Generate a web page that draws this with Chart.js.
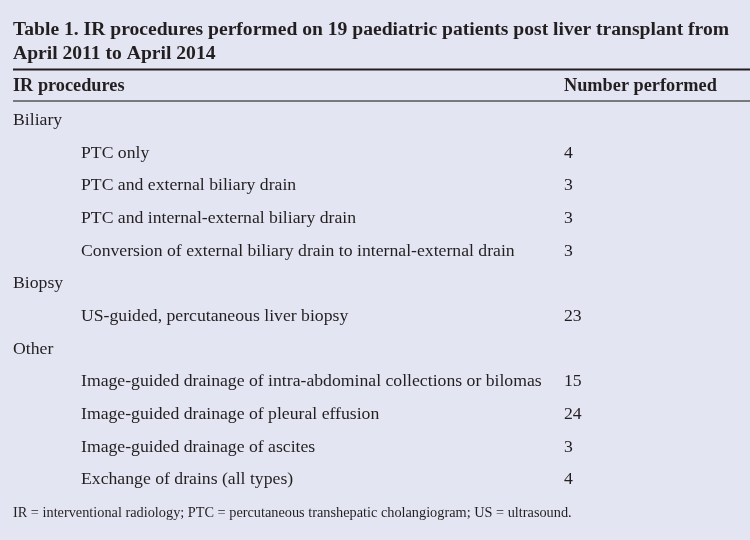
<!DOCTYPE html>
<html lang="en">
<head>
    <meta charset="UTF-8">
    <title>Table 1. IR procedures</title>
    <script src="https://cdn.jsdelivr.net/npm/chart.js"></script>
    <style>
        html, body { margin: 0; padding: 0; background: #e3e5f2; }
        canvas { display: block; }
    </style>
</head>
<body>
    <canvas id="table1" width="750" height="540"></canvas>
    <script>
        // Datos de la tabla
        const titleLines = [
            'Table 1. IR procedures performed on 19 paediatric patients post liver transplant from',
            'April 2011 to April 2014'
        ];
        const columnHeaders = ['IR procedures', 'Number performed'];
        const groups = ['Biliary', 'Biopsy', 'Other'];
        const biliaryProcedures = [
            'PTC only',
            'PTC and external biliary drain',
            'PTC and internal-external biliary drain',
            'Conversion of external biliary drain to internal-external drain'
        ];
        const biliaryCounts = [4, 3, 3, 3];
        const biopsyProcedures = ['US-guided, percutaneous liver biopsy'];
        const biopsyCounts = [23];
        const otherProcedures = [
            'Image-guided drainage of intra-abdominal collections or bilomas',
            'Image-guided drainage of pleural effusion',
            'Image-guided drainage of ascites',
            'Exchange of drains (all types)'
        ];
        const otherCounts = [15, 24, 3, 4];
        const footnote = 'IR = interventional radiology; PTC = percutaneous transhepatic cholangiogram; US = ultrasound.';

        // Filas: cabecera de grupo (sin valor) y procedimientos
        const procs = [biliaryProcedures, biopsyProcedures, otherProcedures];
        const cnts = [biliaryCounts, biopsyCounts, otherCounts];
        const rowLabels = [], rowCounts = [], rowIsGroup = [];
        groups.forEach(function (g, gi) {
            rowLabels.push(g); rowCounts.push(null); rowIsGroup.push(true);
            procs[gi].forEach(function (p, pi) {
                rowLabels.push(p); rowCounts.push(cnts[gi][pi]); rowIsGroup.push(false);
            });
        });

        const SERIF = "'Liberation Serif', 'DejaVu Serif', serif";
        const INK = '#231f20';

        const tablePlugin = {
            id: 'tableText',
            afterDatasetsDraw: function (chart) {
                const ctx = chart.ctx;
                const area = chart.chartArea;
                const yScale = chart.scales.y;
                const left = area.left;
                const numX = left + 551;
                ctx.save();
                ctx.textBaseline = 'middle';
                ctx.fillStyle = INK;

                // lineas
                ctx.strokeStyle = INK;
                ctx.lineWidth = 2;
                ctx.beginPath();
                ctx.moveTo(left, area.top - 34.5);
                ctx.lineTo(chart.width, area.top - 34.5);
                ctx.stroke();
                ctx.strokeStyle = '#555';
                ctx.lineWidth = 1.5;
                ctx.beginPath();
                ctx.moveTo(left, area.top - 3);
                ctx.lineTo(chart.width, area.top - 3);
                ctx.stroke();

                // cabecera
                ctx.font = 'bold 18.3px ' + SERIF;
                ctx.fillText(columnHeaders[0], left, area.top - 18);
                ctx.fillText(columnHeaders[1], numX, area.top - 18);

                // filas
                ctx.font = '17.7px ' + SERIF;
                chart.getDatasetMeta(0).data.forEach(function (bar, i) {
                    const y = yScale.getPixelForValue(i);
                    ctx.fillText(rowLabels[i], rowIsGroup[i] ? left : left + 68, y);
                    if (rowCounts[i] !== null) {
                        ctx.fillText(String(rowCounts[i]), numX, y);
                    }
                });
                ctx.restore();
            }
        };

        new Chart(document.getElementById('table1'), {
            type: 'bar',
            data: {
                labels: rowLabels,
                datasets: [{
                    label: columnHeaders[1],
                    data: rowCounts,
                    backgroundColor: 'rgba(0,0,0,0)',
                    borderWidth: 0
                }]
            },
            options: {
                indexAxis: 'y',
                responsive: false,
                animation: false,
                devicePixelRatio: 1,
                layout: { padding: { left: 13, right: 0, top: 0, bottom: 0 } },
                scales: {
                    x: { display: false, min: 0 },
                    y: { display: false, offset: true, grid: { display: false } }
                },
                plugins: {
                    legend: { display: false },
                    tooltip: { enabled: false },
                    title: {
                        display: true,
                        text: titleLines,
                        align: 'start',
                        color: INK,
                        font: { family: SERIF, size: 19.6, weight: 'bold', lineHeight: 1.225 },
                        padding: { top: 18, bottom: 38 }
                    },
                    subtitle: {
                        display: true,
                        position: 'bottom',
                        text: footnote,
                        align: 'start',
                        color: INK,
                        font: { family: SERIF, size: 14.3, lineHeight: 1.12 },
                        padding: { top: 9, bottom: 19 }
                    }
                }
            },
            plugins: [tablePlugin]
        });
    </script>
</body>
</html>
